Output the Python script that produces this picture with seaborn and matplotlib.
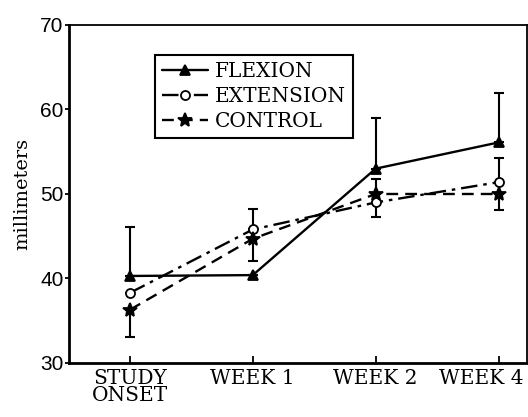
import matplotlib
matplotlib.use("Agg")
import matplotlib.pyplot as plt
import matplotlib.transforms as mtransforms
import seaborn as sns
import pandas as pd
import numpy as np

categories = ["STUDY\nONSET", "WEEK 1", "WEEK 2", "WEEK 4"]
flexion = [40.3, 40.4, 53.0, 56.1]
extension = [38.3, 45.8, 49.0, 51.4]
control = [36.3, 44.7, 50.0, 50.0]
# one-sided error bars (upper, lower)
flex_up = [5.8, 0.0, 6.0, 5.8]
flex_lo = [0.0, 0.0, 0.0, 0.0]
ext_up = [0.0, 2.4, 0.0, 2.8]
ext_lo = [0.0, 0.0, 1.7, 0.0]
ctl_up = [0.0, 0.0, 1.8, 0.0]
ctl_lo = [3.2, 2.6, 0.0, 1.9]

sns.set_theme(style="ticks")
plt.rcParams["font.family"] = ["DejaVu Serif"]
plt.rcParams["text.color"] = "black"
plt.rcParams["axes.labelcolor"] = "black"
plt.rcParams["xtick.color"] = "black"
plt.rcParams["ytick.color"] = "black"

x = np.arange(len(categories))
df = pd.DataFrame({
    "x": np.concatenate([x, x, x]),
    "value": flexion + extension + control,
    "group": ["FLEXION"] * 4 + ["EXTENSION"] * 4 + ["CONTROL"] * 4,
})

fig = plt.figure(figsize=(5.28, 4.17), dpi=100)
ax = fig.add_axes([0.1307, 0.1295, 0.867, 0.8106])

styles = {
    "FLEXION": dict(ls="-", marker="^", mfc="black", ms=6.5),
    "EXTENSION": dict(ls=(0, (7, 2.5, 1.5, 2.5)), marker="o", mfc="white", ms=6.5),
    "CONTROL": dict(ls=(0, (5, 3)), marker="*", mfc="black", ms=10),
}
errs = {
    "FLEXION": (flexion, flex_lo, flex_up),
    "EXTENSION": (extension, ext_lo, ext_up),
    "CONTROL": (control, ctl_lo, ctl_up),
}

for name in ["FLEXION", "EXTENSION", "CONTROL"]:
    vals, lo, up = errs[name]
    ax.errorbar(x, vals, yerr=[lo, up], fmt="none", ecolor="black",
                elinewidth=1.5, capsize=3.5, capthick=1.5, zorder=2)

for name in ["FLEXION", "EXTENSION", "CONTROL"]:
    st = styles[name]
    sub = df[df["group"] == name]
    sns.lineplot(data=sub, x="x", y="value", ax=ax, color="black",
                 linestyle=st["ls"], marker=st["marker"], markersize=st["ms"],
                 markerfacecolor=st["mfc"], markeredgecolor="black",
                 markeredgewidth=1.3, linewidth=1.7, label=name, zorder=3)

ax.set_xlim(-0.496, 3.23)
ax.set_ylim(30, 70)
ax.set_xticks(x)
ax.set_xticklabels(categories, fontsize=14.5, linespacing=0.9)
ax.set_yticks([30, 40, 50, 60, 70])
ax.set_yticklabels(["30", "40", "50", "60", "70"], fontsize=15,
                   family=["Liberation Sans"])
ax.set_xlabel("")
ax.set_ylabel("millimeters", fontsize=14, labelpad=6)

for side in ["left", "bottom"]:
    ax.spines[side].set_linewidth(2.0)
for side in ["top", "right"]:
    ax.spines[side].set_visible(True)
    ax.spines[side].set_linewidth(1.3)
for s in ax.spines.values():
    s.set_color("black")

ax.tick_params(axis="x", direction="in", length=5, width=1.3, pad=4, colors="black")
ax.tick_params(axis="y", direction="out", length=3, width=1.3, pad=1, colors="black")

# nudge last x label left so it stays inside the figure
last = ax.get_xticklabels()[-1]
last.set_transform(last.get_transform() +
                   mtransforms.ScaledTranslation(-17 / 100, 0, fig.dpi_scale_trans))

leg = ax.legend(loc="upper left", bbox_to_anchor=(0.188, 0.911), borderaxespad=0,
                frameon=True, fancybox=False, edgecolor="black", fontsize=14.5,
                handlelength=2.3, handletextpad=0.3, labelspacing=0.3,
                borderpad=0.35)
leg.get_frame().set_linewidth(1.5)
leg.get_frame().set_alpha(1)
for t in leg.get_texts():
    t.set_color("black")

fig.savefig("out.png", dpi=100)
